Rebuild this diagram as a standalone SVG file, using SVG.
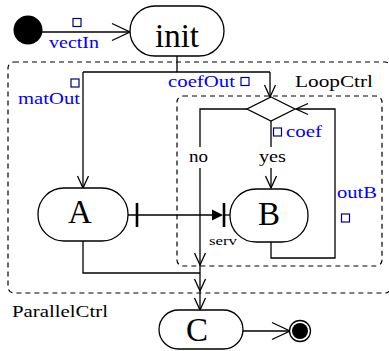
<svg xmlns="http://www.w3.org/2000/svg" width="389" height="351" viewBox="0 0 389 351">
<style>
.ln{fill:none;stroke:#000;stroke-width:1.3}
.box{fill:none;stroke:#000;stroke-width:1.2;stroke-dasharray:5,4}
.nd{fill:#fff;stroke:#000;stroke-width:1.3}
.big{font-family:"Liberation Serif","Times New Roman",serif;font-size:33px;fill:#000;text-anchor:middle}
.lbl{font-family:"Liberation Serif","Times New Roman",serif;font-size:17px;fill:#000}
.blue{fill:#0000ff}
.pin{fill:#fff;stroke:#000080;stroke-width:1.2}
</style>
<defs>
<marker id="bigArr" markerUnits="userSpaceOnUse" markerWidth="20" markerHeight="20" viewBox="-19 -10 20 20" refX="0" refY="0" orient="auto">
<path d="M-18,-8.5 L0,0 L-18,8.5" fill="none" stroke="#000" stroke-width="1.3"/>
</marker>
<marker id="smArr" markerUnits="userSpaceOnUse" markerWidth="14" markerHeight="14" viewBox="-13 -7 14 14" refX="0" refY="0" orient="auto">
<path d="M-12,-5.5 L0,0 L-12,5.5" fill="none" stroke="#000" stroke-width="1.3"/>
</marker>
</defs>

<g id="ParallelCtrl">
<rect class="box" x="8" y="62" width="383" height="231" rx="6"/>
<text class="lbl" x="12" y="317" textLength="96" lengthAdjust="spacingAndGlyphs">ParallelCtrl</text>
</g>
<g id="LoopCtrl">
<rect class="box" x="177" y="96" width="205" height="170" rx="6"/>
<text class="lbl" x="295" y="87" textLength="78" lengthAdjust="spacingAndGlyphs">LoopCtrl</text>
</g>

<g id="connectors">
<path class="ln" d="M42,32 H130" marker-end="url(#bigArr)"/>
<path class="ln" d="M177,56 V72 M83,72 H270"/>
<path class="ln" d="M83,72 V188" marker-end="url(#smArr)"/>
<path class="ln" d="M270,72 V97" marker-end="url(#smArr)"/>
<path class="ln" d="M247,109 H200 V147"/>
<path class="ln" d="M200,168 V265" marker-end="url(#smArr)"/>
<path class="ln" d="M200,265 V291" marker-end="url(#smArr)"/>
<path class="ln" d="M200,291 V310" marker-end="url(#smArr)"/>
<path class="ln" d="M83,241 V273 H200"/>
<path class="ln" d="M271,121 V147"/>
<path class="ln" d="M271,168 V188" marker-end="url(#smArr)"/>
<path class="ln" d="M271,242 V258 H335 V109 H296" marker-end="url(#smArr)"/>
<path class="ln" d="M128,215 H213"/>
<path d="M212,209.5 L223,215 L212,220.5 Z" fill="#000"/>
<path d="M137,203 V227 M224,203 V227" stroke="#000" stroke-width="2.6" fill="none"/>
<path class="ln" d="M224,215 H230"/>
<path class="ln" d="M243,331 H290" marker-end="url(#bigArr)"/>
<rect class="pin" x="73" y="18.5" width="8" height="8"/>
<text class="lbl blue" x="49" y="48" textLength="50" lengthAdjust="spacingAndGlyphs">vectIn</text>
<rect class="pin" x="71" y="79" width="8" height="8"/>
<text class="lbl blue" x="18" y="104" textLength="62" lengthAdjust="spacingAndGlyphs">matOut</text>
<rect class="pin" x="241" y="77.5" width="8" height="8"/>
<text class="lbl blue" x="168" y="87" textLength="67" lengthAdjust="spacingAndGlyphs">coefOut</text>
<rect class="pin" x="273.5" y="128" width="8" height="8"/>
<text class="lbl blue" x="286" y="137" textLength="36" lengthAdjust="spacingAndGlyphs">coef</text>
<rect class="pin" x="341.5" y="214" width="8" height="8"/>
<text class="lbl blue" x="337" y="198" textLength="40" lengthAdjust="spacingAndGlyphs">outB</text>
<text class="lbl" x="189" y="162" textLength="19" lengthAdjust="spacingAndGlyphs">no</text>
<text class="lbl" x="259" y="162" textLength="27" lengthAdjust="spacingAndGlyphs">yes</text>
<text class="lbl" x="209" y="245" style="font-size:13px" textLength="28" lengthAdjust="spacingAndGlyphs">serv</text>
</g>

<g id="start">
<circle cx="28" cy="30" r="14.5" fill="#000"/>
</g>
<g id="init">
<rect class="nd" x="130" y="6" width="94" height="50" rx="25"/>
<text class="big" x="177" y="47">init</text>
</g>
<g id="decision">
<path class="nd" d="M271,97 L295,109 L271,121 L247,109 Z"/>
</g>
<g id="A">
<rect class="nd" x="38" y="188" width="90" height="53" rx="26"/>
<text class="big" x="80" y="223">A</text>
</g>
<g id="B">
<rect class="nd" x="230" y="189" width="78" height="53" rx="26"/>
<text class="big" x="269" y="225">B</text>
</g>
<g id="C">
<rect class="nd" x="159" y="310" width="84" height="39" rx="19.5"/>
<text class="big" x="197" y="341">C</text>
</g>
<g id="final">
<circle cx="300" cy="331" r="10.5" fill="#fff" stroke="#000" stroke-width="1.3"/>
<circle cx="300" cy="331" r="8" fill="#000"/>
</g>
</svg>
